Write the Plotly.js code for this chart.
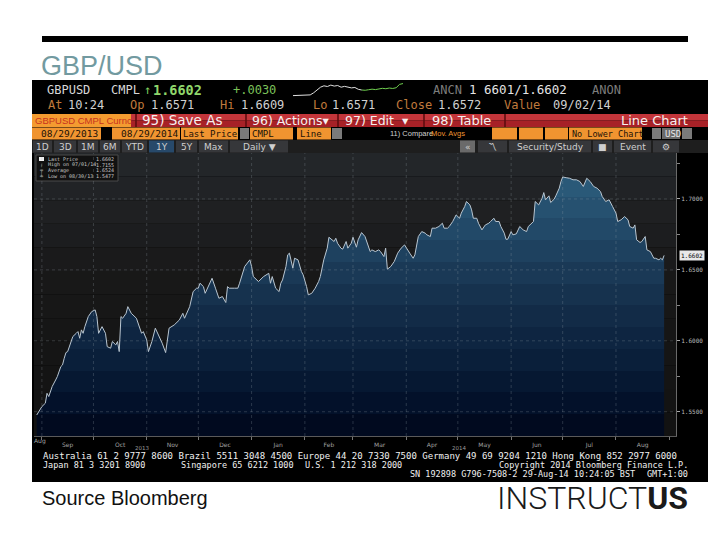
<!DOCTYPE html>
<html><head><meta charset="utf-8">
<script src="https://cdn.plot.ly/plotly-3.0.1.min.js"></script>
<style>html,body{margin:0;padding:0;background:#fff}#chart{width:720px;height:540px}</style>
</head><body><div id="chart"></div>
<script>
// ---------- data ----------
const dates = [
 '2013-08-29','2013-09-01','2013-09-03','2013-09-04','2013-09-05','2013-09-07','2013-09-09','2013-09-10','2013-09-12','2013-09-13','2013-09-14','2013-09-15','2013-09-16','2013-09-18','2013-09-19','2013-09-21','2013-09-22','2013-09-23','2013-09-24','2013-09-25','2013-09-26','2013-09-28','2013-09-30',
 '2013-10-02','2013-10-03','2013-10-04','2013-10-05','2013-10-06','2013-10-08','2013-10-09','2013-10-11','2013-10-12','2013-10-14','2013-10-15','2013-10-16','2013-10-17','2013-10-18','2013-10-20','2013-10-21','2013-10-23','2013-10-26','2013-10-27','2013-10-29','2013-10-30',
 '2013-11-01','2013-11-02','2013-11-04','2013-11-06','2013-11-09','2013-11-10','2013-11-12','2013-11-14','2013-11-17','2013-11-18','2013-11-20','2013-11-22','2013-11-23','2013-11-26','2013-11-28','2013-11-30',
 '2013-12-01','2013-12-02','2013-12-04','2013-12-05','2013-12-07','2013-12-09','2013-12-11','2013-12-13','2013-12-15','2013-12-17','2013-12-18','2013-12-19','2013-12-22','2013-12-24','2013-12-25','2013-12-28','2013-12-31',
 '2014-01-01','2014-01-02','2014-01-05','2014-01-08','2014-01-11','2014-01-12','2014-01-13','2014-01-15','2014-01-17','2014-01-18','2014-01-19','2014-01-21','2014-01-22','2014-01-23','2014-01-24','2014-01-25','2014-01-26','2014-01-28','2014-01-30','2014-01-31',
 '2014-02-02','2014-02-03','2014-02-05','2014-02-07','2014-02-09','2014-02-10','2014-02-12','2014-02-14','2014-02-15','2014-02-17','2014-02-18','2014-02-19','2014-02-20','2014-02-22','2014-02-23','2014-02-25','2014-02-26','2014-02-28',
 '2014-03-01','2014-03-03','2014-03-04','2014-03-06','2014-03-08','2014-03-11','2014-03-12','2014-03-14','2014-03-16','2014-03-17','2014-03-19','2014-03-20','2014-03-21','2014-03-23','2014-03-24','2014-03-25','2014-03-27','2014-03-29','2014-03-31',
 '2014-04-01','2014-04-03','2014-04-05','2014-04-06','2014-04-08','2014-04-10','2014-04-12','2014-04-13','2014-04-15','2014-04-16','2014-04-18','2014-04-20','2014-04-22','2014-04-23','2014-04-25','2014-04-26','2014-04-28','2014-04-30',
 '2014-05-02','2014-05-03','2014-05-05','2014-05-06','2014-05-08','2014-05-09','2014-05-10','2014-05-12','2014-05-13','2014-05-15','2014-05-17','2014-05-19','2014-05-20','2014-05-22','2014-05-23','2014-05-25','2014-05-26','2014-05-28','2014-05-29','2014-05-30',
 '2014-06-01','2014-06-02','2014-06-04','2014-06-06','2014-06-08','2014-06-10','2014-06-11','2014-06-12','2014-06-14','2014-06-15','2014-06-16','2014-06-17','2014-06-19','2014-06-20','2014-06-21','2014-06-23','2014-06-24','2014-06-26','2014-06-27','2014-06-29','2014-06-30',
 '2014-07-01','2014-07-03','2014-07-05','2014-07-07','2014-07-09','2014-07-11','2014-07-13','2014-07-15','2014-07-17','2014-07-19','2014-07-21','2014-07-23','2014-07-24','2014-07-26','2014-07-28','2014-07-30',
 '2014-08-01','2014-08-02','2014-08-04','2014-08-06','2014-08-08','2014-08-09','2014-08-11','2014-08-12','2014-08-13','2014-08-15','2014-08-16','2014-08-18','2014-08-19','2014-08-21','2014-08-23','2014-08-24','2014-08-26','2014-08-27','2014-08-28','2014-08-29'
];
const prices = [
 1.5477,1.5536,1.5560,1.5630,1.5607,1.5678,1.5724,1.5748,1.5818,1.5830,1.5877,1.5917,1.5924,1.5995,1.6030,1.6053,1.6065,1.6018,1.6077,1.6053,1.6100,1.6171,1.6206,
 1.6218,1.6171,1.6053,1.6077,1.6100,1.6053,1.5959,1.5948,1.5995,1.5971,1.5995,1.5924,1.6171,1.6159,1.6194,1.6241,1.6194,1.6159,1.6124,1.6053,1.6065,
 1.6006,1.5924,1.5995,1.6089,1.6018,1.5983,1.5917,1.6089,1.6112,1.6124,1.6147,1.6194,1.6159,1.6241,1.6347,1.6371,
 1.6371,1.6406,1.6382,1.6335,1.6394,1.6441,1.6371,1.6300,1.6312,1.6270,1.6382,1.6371,1.6371,1.6371,1.6406,1.6524,1.6571,
 1.6524,1.6453,1.6418,1.6453,1.6476,1.6406,1.6453,1.6371,1.6347,1.6406,1.6429,1.6524,1.6606,1.6618,1.6571,1.6512,1.6582,1.6571,1.6488,1.6465,
 1.6382,1.6324,1.6335,1.6371,1.6418,1.6453,1.6571,1.6653,1.6730,1.6712,1.6700,1.6723,1.6688,1.6653,1.6646,1.6700,1.6653,1.6688,
 1.6730,1.6660,1.6712,1.6763,1.6735,1.6629,1.6641,1.6629,1.6641,1.6629,1.6594,1.6653,1.6505,1.6524,1.6547,1.6559,1.6618,1.6653,1.6676,
 1.6653,1.6618,1.6582,1.6606,1.6735,1.6770,1.6759,1.6747,1.6735,1.6794,1.6794,1.6806,1.6829,1.6794,1.6794,1.6806,1.6841,1.6888,
 1.6864,1.6900,1.6947,1.6982,1.6958,1.6923,1.6864,1.6864,1.6829,1.6782,1.6817,1.6829,1.6841,1.6864,1.6841,1.6841,1.6806,1.6759,1.6716,1.6716,
 1.6770,1.6747,1.6754,1.6806,1.6782,1.6770,1.6806,1.6817,1.6841,1.6982,1.6970,1.6958,1.7005,1.7045,1.6994,1.7022,1.6975,1.6998,1.7022,1.7076,1.7123,
 1.7155,1.7150,1.7146,1.7135,1.7135,1.7123,1.7088,1.7146,1.7123,1.7088,1.7076,1.7052,1.7017,1.6982,1.6994,1.6947,
 1.6900,1.6841,1.6853,1.6876,1.6853,1.6806,1.6794,1.6817,1.6712,1.6693,1.6700,1.6735,1.6641,1.6629,1.6582,1.6582,1.6571,1.6582,1.6571,1.6602
];
// intraday sparkline in the header (relative levels)
const sparkWhite = [1,1,1,1.2,1,1.5,3,5,7,8,7.5,8.5,7.8,8.2,7,7.6,7.2,6.5,6.8,5.5,5];
const sparkGreen = [5,4.8,5.2,5.6,5.3,5.8,6.2,5.9,6.4,6.1,6.6,9,9.6];
const legendLabels = ['Last Price','High on 07/01/14','Average','Low on 08/30/13'];
const legendValues = ['1.6602','1.7155','1.6524','1.5477'];
const gridLevels = [1.55,1.60,1.65,1.70];

// ---------- helpers ----------
const W=720,H=540;
const fx=x=>x/W, fy=y=>1-y/H;
const shapes=[], ann=[];
function rect(x0,y0,x1,y1,color,line){
  shapes.push({type:'rect',xref:'paper',yref:'paper',x0:fx(x0),x1:fx(x1),y0:fy(y1),y1:fy(y0),
    fillcolor:color,line:line||{width:0},layer:'below'});
}
function txt(x,y,text,o){
  o=o||{};
  ann.push({xref:'paper',yref:'paper',x:fx(x),y:fy(y),text:text,showarrow:false,
    xanchor:o.anchor||'left',yanchor:'middle',borderpad:0,
    font:{family:o.family||'DejaVu Sans Mono',size:o.size||12,color:o.color||'#d8d8d8',weight:o.weight||400}});
}
const MONO='DejaVu Sans Mono', SANS='Liberation Sans';

// ---------- slide ----------
rect(42,36,688,42,'#000');
txt(40,66,'GBP/USD',{family:SANS,size:27,color:'#729aa0'});
txt(41,498,'Source Bloomberg',{family:SANS,size:20,color:'#111'});
txt(689,498,'INSTRUCT<b>US</b>',{anchor:'right',family:'Roboto',size:32,color:'#1a1a1a',weight:300});

// ---------- terminal panel ----------
rect(32,80,708,482,'#000');
// row 1
txt(46,90,'GBPUSD',{size:12}); txt(110,90,'CMPL',{size:12});
txt(143,90,'↑',{size:12,color:'#7fcf5f'});
txt(152,90,'1.6602',{size:13.5,color:'#8fd66b',weight:700});
txt(232,90,'+.0030',{size:12,color:'#7cc25a'});
txt(432,90,'ANCN',{size:12,color:'#7d7d7d'});
txt(468,90,'1 6601/1.6602',{size:12.5,color:'#e4e4e4'});
txt(591,90,'ANON',{size:12,color:'#7d7d7d'});
// row 2
const lab='#c07a3c', val='#d0d0d0';
txt(47,105,'At',{color:lab}); txt(67,105,'10:24',{color:val});
txt(129,105,'Op',{color:lab}); txt(150,105,'1.6571',{color:val});
txt(219,105,'Hi',{color:lab}); txt(240,105,'1.6609',{color:val});
txt(312,105,'Lo',{color:lab}); txt(331,105,'1.6571',{color:val});
txt(395,105,'Close',{color:lab}); txt(437,105,'1.6572',{color:val});
txt(503,105,'Value',{color:lab}); txt(552,105,'09/02/14',{color:val});
// row 3 red toolbar
rect(32,114,708,120.5,'#c3353a'); rect(32,120.5,708,127,'#a72127');
rect(32,114,131,127,'#f49b30');
[136,246,338,424,505].forEach(x=>rect(x-0.8,114,x+0.8,127,'#5e0d10'));
const wt='#f6f0f0';
txt(34,120.5,'GBPUSD CMPL Curnc',{family:SANS,size:9.5,color:'#c8321e'});
txt(141,120.5,'95) Save As',{family:'DejaVu Sans',size:13.5,color:wt});
txt(251,120.5,'96) Actions▾',{family:'DejaVu Sans',size:12.5,color:wt});
txt(344,120.5,'97) Edit  ▾',{family:'DejaVu Sans',size:12.5,color:wt});
txt(431,120.5,'98) Table',{family:'DejaVu Sans',size:13,color:wt});
txt(689,120.5,'Line Chart',{anchor:'right',family:'DejaVu Sans',size:13,color:wt});
// row 4 orange fields
const OR='#f09430';
[[32,101],[112,180],[181,238],[250,293],[297,331],[492,517],[519,543],[545,568],[569,642]].forEach(b=>rect(b[0],127.5,b[1],139.5,OR));
[[240,249],[332,342],[652,661],[682,692]].forEach(b=>rect(b[0],128,b[1],139,'#7a7a7a'));
rect(662,128,680,139,'#6a6a6a');
const dk='#1a1208';
txt(99,133.5,'08/29/2013',{anchor:'right',size:9.5,color:dk});
txt(179,133.5,'08/29/2014',{anchor:'right',size:9.5,color:dk});
txt(182,133.5,'Last Price',{size:9,color:dk});
txt(251,133.5,'CMPL',{size:9,color:dk});
txt(299,133.5,'Line',{size:9,color:dk});
txt(389,133.5,'11) Compare',{family:SANS,size:7.5,color:'#d0d0d0'});
txt(430,133.5,'Mov. Avgs',{family:SANS,size:7.5,color:OR});
txt(571,133.5,'No Lower Chart',{size:8.5,color:dk});
txt(664,133.5,'USD',{size:9,color:'#e8e8e8'});
// row 5 period buttons
rect(32,140,708,153,'#1e1e1e');
const btns=[[33,52,'1D'],[54,76,'3D'],[78,98,'1M'],[100,120,'6M'],[122,147,'YTD'],[149,174,'1Y'],[176,197,'5Y'],[199,228,'Max'],[230,288,'Daily ▼'],
  [460,475,'«'],[478,507,'〽'],[509,591,'Security/Study'],[593,612,'■'],[614,651,'Event'],[653,679,'⚙']];
btns.forEach(b=>{
  const c=b[2]==='1Y'?'#27496a':(b[2]==='«'?'#6a6a6a':'#36373a');
  rect(b[0],140.5,b[1],152.5,c);
  txt((b[0]+b[1])/2,146.5,b[2],{anchor:'center',family:'DejaVu Sans',size:9,color:'#cfcfcf'});
});

// ---------- chart background bands ----------
const bgBands=['#232629','#212326','#1f2022','#1c1d1f','#1a1a1b','#181818','#171717','#161616','#151515','#141414','#131313','#121212'];
bgBands.forEach((c,i)=>rect(34,153+i*23.6,676,153+(i+1)*23.6,c));
// legend box
rect(36,155,118,181,'#111111',{width:1,color:'#4a4a4a'});
legendLabels.forEach((l,i)=>{
  const y=159+i*5.6;
  txt(47,y,l,{size:5,color:'#c8c8c8'});
  txt(115,y,legendValues[i],{anchor:'right',size:5,color:'#c8c8c8'});
});
rect(39,157,44,161,'#f0f0f0');
['╷','╤','╧'].forEach((s,i)=>txt(41.5,164.6+i*5.6,s,{anchor:'center',size:5,color:'#bbbbbb'}));

// grid lines drawn above the fill (faint, dotted)
for(let m=0;m<12;m++){
  const d=new Date(Date.UTC(2013,8+m,1)).toISOString().slice(0,10);
  shapes.push({type:'line',xref:'x',yref:'paper',x0:d,x1:d,y0:fy(436),y1:fy(153),layer:'above',
    line:{color:'rgba(160,170,180,0.25)',width:1,dash:'dot'}});
}
gridLevels.forEach(v=>shapes.push({type:'line',xref:'paper',yref:'y',x0:fx(34),x1:fx(676),y0:v,y1:v,layer:'above',
  line:{color:'rgba(160,170,180,0.25)',width:1,dash:'dot'}}));

// year labels under the month axis
txt(142,447.5,'2013',{anchor:'center',family:'DejaVu Sans',size:5.5,color:'#9a9a9a'});
txt(459,447.5,'2014',{anchor:'center',family:'DejaVu Sans',size:5.5,color:'#9a9a9a'});
txt(40,441,'Aug',{anchor:'center',family:'DejaVu Sans',size:6,color:'#a0a0a0'});

// last price tag
const last=prices[prices.length-1];
ann.push({xref:'paper',yref:'y',x:fx(679),y:last,text:last.toFixed(4),showarrow:false,xanchor:'left',yanchor:'middle',
  bgcolor:'#e8e8e8',borderpad:1,font:{family:MONO,size:6,color:'#000'}});

// footer
const F={size:9,color:'#f0f0f0'};
const F2={size:8.5,color:'#f0f0f0'};
txt(42,455.5,'Australia 61 2 9777 8600 Brazil 5511 3048 4500 Europe 44 20 7330 7500 Germany 49 69 9204 1210 Hong Kong 852 2977 6000',F);
txt(42,464.5,'Japan 81 3 3201 8900',F2);
txt(180,464.5,'Singapore 65 6212 1000',F2);
txt(304,464.5,'U.S. 1 212 318 2000',F2);
txt(689,464.5,'Copyright 2014 Bloomberg Finance L.P.',Object.assign({anchor:'right'},F2));
txt(636,473.5,'SN 192898 G796-7508-2 29-Aug-14 10:24:05 BST',Object.assign({anchor:'right'},F2));
txt(689,473.5,'GMT+1:00',Object.assign({anchor:'right'},F2));

// ---------- fill gradient (stepped like the terminal) ----------
const fillSteps=['#010a1f','#03112a','#061832','#0a1f3a','#0e2541','#122b47','#16324e','#1a3956','#1e415f','#224968','#265170','#2a5978','#2e6180'];
const cs=[];
fillSteps.forEach((c,i)=>{cs.push([i/fillSteps.length,c]);cs.push([(i+1)/fillSteps.length,c]);});

const yLo=1.5329, yHi=1.7324;
const traces=[
 {type:'scatter',x:dates,y:prices,mode:'lines',line:{color:'#b9c6d1',width:1},fill:'tozeroy',
  fillgradient:{type:'vertical',start:yLo,stop:yHi,colorscale:cs},hoverinfo:'skip'},
 {type:'scatter',x:sparkWhite.map((_,i)=>i),y:sparkWhite,xaxis:'x2',yaxis:'y2',mode:'lines',line:{color:'#e0e0e0',width:1},hoverinfo:'skip'},
 {type:'scatter',x:sparkGreen.map((_,i)=>i+sparkWhite.length-1),y:sparkGreen,xaxis:'x2',yaxis:'y2',mode:'lines',line:{color:'#6fcf4f',width:1},hoverinfo:'skip'}
];

const layout={
 width:720,height:540,margin:{l:0,r:0,t:0,b:0},paper_bgcolor:'#ffffff',plot_bgcolor:'rgba(0,0,0,0)',showlegend:false,
 xaxis:{type:'date',domain:[fx(34),fx(676)],range:['2013-08-27 10:00','2014-09-04 22:00'],anchor:'y',
   tick0:'2013-09-01',dtick:'M1',tickformat:'%b',ticklabelmode:'period',ticks:'outside',ticklen:3,tickcolor:'#777',
   tickfont:{family:'DejaVu Sans',size:6,color:'#a0a0a0'},showgrid:false,showline:true,linecolor:'#5a5a5a',zeroline:false,fixedrange:true},
 yaxis:{domain:[fy(436),fy(153)],range:[yLo,yHi],side:'right',anchor:'x',tick0:1.55,dtick:0.05,tickformat:'.4f',
   ticks:'outside',ticklen:3,tickcolor:'#aaa',tickfont:{family:MONO,size:6,color:'#bdbdbd'},
   minor:{dtick:0.025,ticks:'outside',ticklen:3,tickcolor:'#888',showgrid:false},
   showgrid:false,showline:true,linecolor:'#6a6a6a',zeroline:false,fixedrange:true},
 xaxis2:{domain:[fx(293),fx(403)],anchor:'y2',visible:false,range:[0,sparkWhite.length+sparkGreen.length-2]},
 yaxis2:{domain:[fy(97),fy(83)],anchor:'x2',visible:false,range:[0,10]},
 shapes:shapes,annotations:ann
};
Plotly.newPlot('chart',traces,layout,{staticPlot:true,displayModeBar:false});
</script></body></html>
